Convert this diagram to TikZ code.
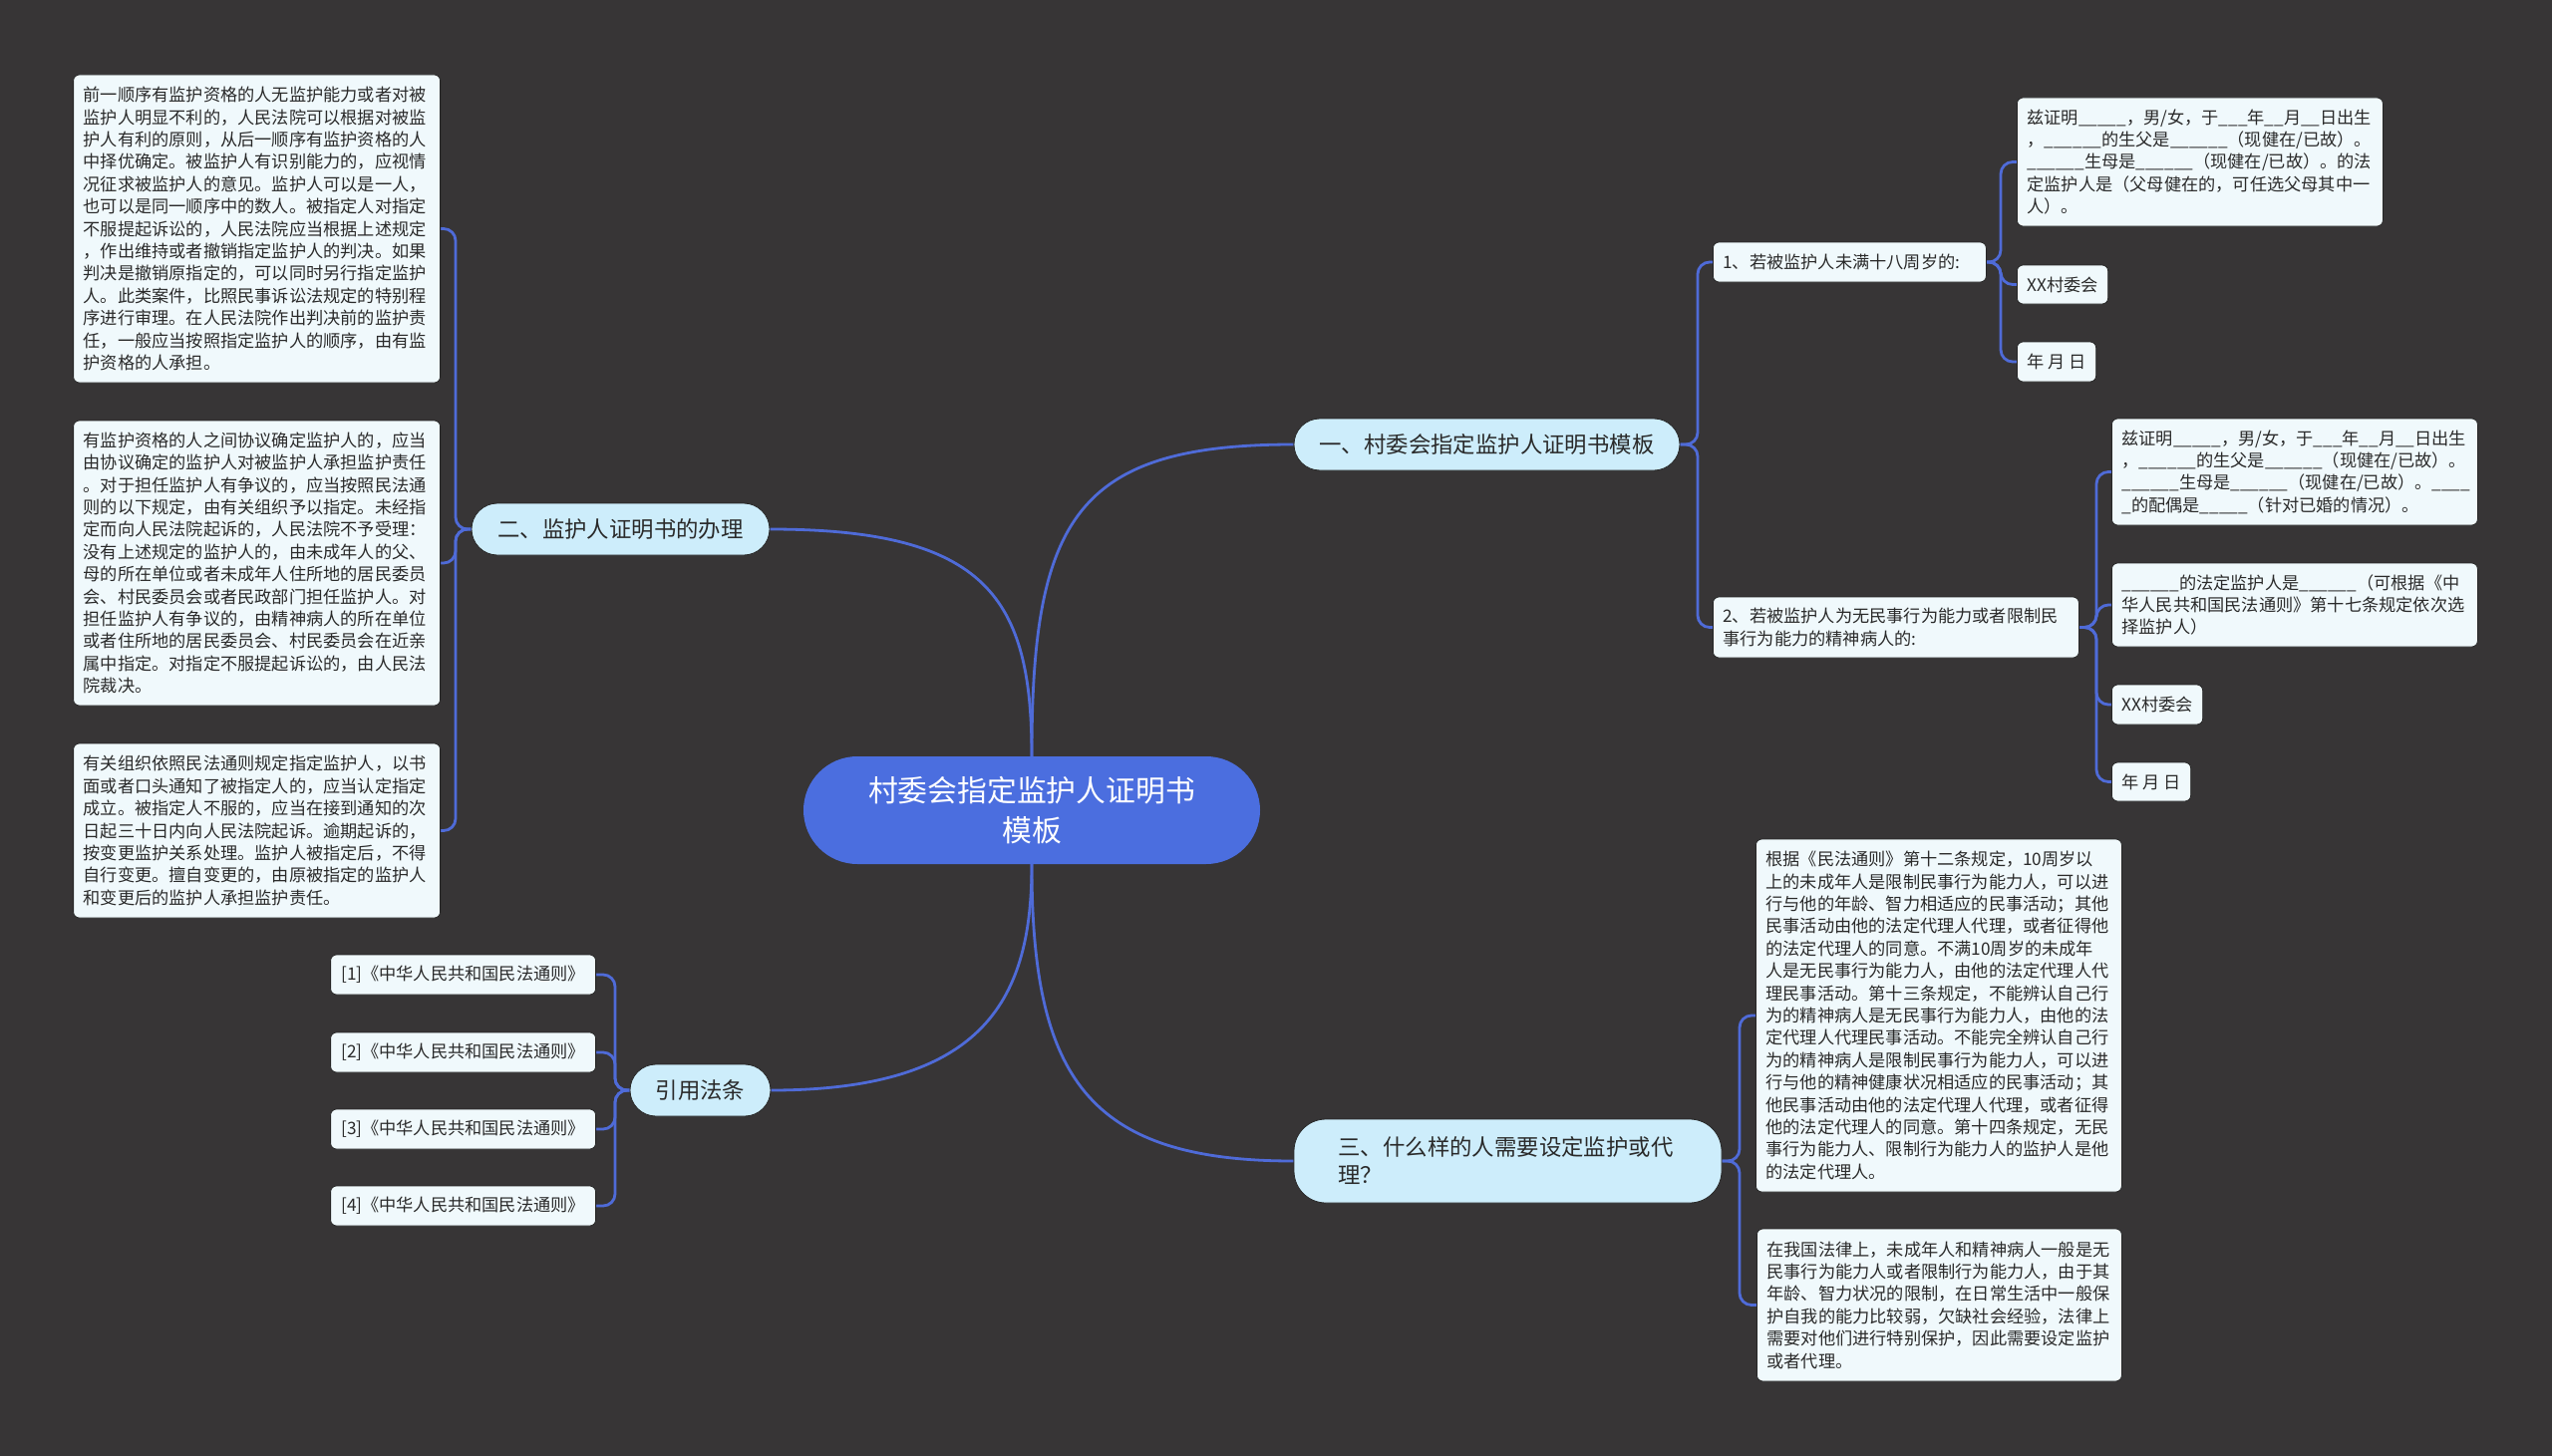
\documentclass[tikz,border=0pt]{standalone}
\usepackage{fontspec}
\setmainfont{Noto Sans CJK SC}
\usetikzlibrary{backgrounds}
\definecolor{bgc}{HTML}{373536}
\definecolor{linec}{HTML}{4F6BD8}
\definecolor{centerf}{HTML}{4B6EDF}
\definecolor{pillf}{HTML}{CDEDFB}
\definecolor{leaff}{HTML}{F0F9FC}
\definecolor{edgec}{HTML}{262626}
\definecolor{txt}{HTML}{2A2A2A}
\begin{document}
\begin{tikzpicture}[x=1pt,y=-1pt,
  conn/.style={draw=linec, line width=2.8pt, rounded corners=12pt},
  curv/.style={draw=linec, line width=2.8pt},
  leaf/.style={draw=edgec, line width=0.8pt, fill=leaff, rounded corners=6pt, inner xsep=10pt, inner ysep=0pt, align=left, font=\fontsize{17.2}{22.4}\selectfont, text=txt},
  pill/.style={draw=edgec, line width=0.8pt, fill=pillf, rounded corners=26pt, inner sep=0pt, minimum height=52pt, font=\fontsize{22.4}{28}\selectfont, text=txt},
]
\useasboundingbox (0,0) rectangle (2560,1461);

% centre
\node[fill=centerf, rounded corners=54pt, minimum width=458pt, minimum height=108pt, inner sep=0pt, align=center, text=white, font=\fontsize{29.8}{40}\selectfont] (C) at (1035,813) {村委会指定监护人证明书\\模板};

% level 1
\node[pill, minimum width=387pt] (P1) at (1491.5,446) {一、村委会指定监护人证明书模板};
\node[pill, minimum width=299pt] (P2) at (622.5,531) {二、监护人证明书的办理};
\node[pill, minimum width=141pt] (P3) at (702.5,1094) {引用法条};
\node[pill, minimum width=429pt, minimum height=84pt, rounded corners=32pt, text width=340pt, align=left] (P4) at (1512.5,1165) {三、什么样的人需要设定监护或代\\理？};

% level 2 right
\node[leaf, anchor=west, text width=254pt, minimum height=40pt] (N1) at (1718,263) {1、若被监护人未满十八周岁的:};
\node[leaf, anchor=west, text width=347pt, minimum height=61pt] (N2) at (1718,629.5) {2、若被监护人为无民事行为能力或者限制民\\事行为能力的精神病人的:};

% children of N1
\node[leaf, anchor=west, text width=347pt, minimum height=129pt] (A1) at (2023,162.5) {兹证明\_\_\_\_\_，男/女，于\_\_\_年\_\_月\_\_日出生\\，\_\_\_\_\_\_的生父是\_\_\_\_\_\_（现健在/已故）。\\\_\_\_\_\_\_生母是\_\_\_\_\_\_（现健在/已故）。的法\\定监护人是（父母健在的，可任选父母其中一\\人）。};
\node[leaf, anchor=west, minimum height=39pt] (X1) at (2023,285.5) {XX村委会};
\node[leaf, anchor=west, minimum height=40pt] (D1) at (2023,363) {年 月 日};

% children of N2
\node[leaf, anchor=west, text width=347pt, minimum height=107pt] (B1) at (2118,473.5) {兹证明\_\_\_\_\_，男/女，于\_\_\_年\_\_月\_\_日出生\\，\_\_\_\_\_\_的生父是\_\_\_\_\_\_（现健在/已故）。\\\_\_\_\_\_\_生母是\_\_\_\_\_\_（现健在/已故）。\_\_\_\_\\\_的配偶是\_\_\_\_\_（针对已婚的情况）。};
\node[leaf, anchor=west, text width=347pt, minimum height=84pt] (B2) at (2118,607) {\_\_\_\_\_\_的法定监护人是\_\_\_\_\_\_（可根据《中\\华人民共和国民法通则》第十七条规定依次选\\择监护人）};
\node[leaf, anchor=west, minimum height=40pt] (X2) at (2118,707) {XX村委会};
\node[leaf, anchor=west, minimum height=39pt] (D2) at (2118,784.5) {年 月 日};

% children of P2 (left)
\node[leaf, anchor=east, text width=348pt, minimum height=309pt] (L1) at (442,229.5) {前一顺序有监护资格的人无监护能力或者对被\\监护人明显不利的，人民法院可以根据对被监\\护人有利的原则，从后一顺序有监护资格的人\\中择优确定。被监护人有识别能力的，应视情\\况征求被监护人的意见。监护人可以是一人，\\也可以是同一顺序中的数人。被指定人对指定\\不服提起诉讼的，人民法院应当根据上述规定\\，作出维持或者撤销指定监护人的判决。如果\\判决是撤销原指定的，可以同时另行指定监护\\人。此类案件，比照民事诉讼法规定的特别程\\序进行审理。在人民法院作出判决前的监护责\\任，一般应当按照指定监护人的顺序，由有监\\护资格的人承担。};
\node[leaf, anchor=east, text width=348pt, minimum height=286pt] (L2) at (442,565) {有监护资格的人之间协议确定监护人的，应当\\由协议确定的监护人对被监护人承担监护责任\\。对于担任监护人有争议的，应当按照民法通\\则的以下规定，由有关组织予以指定。未经指\\定而向人民法院起诉的，人民法院不予受理：\\没有上述规定的监护人的，由未成年人的父、\\母的所在单位或者未成年人住所地的居民委员\\会、村民委员会或者民政部门担任监护人。对\\担任监护人有争议的，由精神病人的所在单位\\或者住所地的居民委员会、村民委员会在近亲\\属中指定。对指定不服提起诉讼的，由人民法\\院裁决。};
\node[leaf, anchor=east, text width=348pt, minimum height=175pt] (L3) at (442,833.5) {有关组织依照民法通则规定指定监护人，以书\\面或者口头通知了被指定人的，应当认定指定\\成立。被指定人不服的，应当在接到通知的次\\日起三十日内向人民法院起诉。逾期起诉的，\\按变更监护关系处理。监护人被指定后，不得\\自行变更。擅自变更的，由原被指定的监护人\\和变更后的监护人承担监护责任。};

% citations
\node[leaf, anchor=east, minimum width=266pt, minimum height=40pt] (Q1) at (598,978) {[1]《中华人民共和国民法通则》};
\node[leaf, anchor=east, minimum width=266pt, minimum height=40pt] (Q2) at (598,1056) {[2]《中华人民共和国民法通则》};
\node[leaf, anchor=east, minimum width=266pt, minimum height=40pt] (Q3) at (598,1133) {[3]《中华人民共和国民法通则》};
\node[leaf, anchor=east, minimum width=266pt, minimum height=40pt] (Q4) at (598,1210) {[4]《中华人民共和国民法通则》};

% children of P4
\node[leaf, anchor=west, text width=347pt, minimum height=354pt] (R1) at (1761,1019) {根据《民法通则》第十二条规定，10周岁以\\上的未成年人是限制民事行为能力人，可以进\\行与他的年龄、智力相适应的民事活动；其他\\民事活动由他的法定代理人代理，或者征得他\\的法定代理人的同意。不满10周岁的未成年\\人是无民事行为能力人，由他的法定代理人代\\理民事活动。第十三条规定，不能辨认自己行\\为的精神病人是无民事行为能力人，由他的法\\定代理人代理民事活动。不能完全辨认自己行\\为的精神病人是限制民事行为能力人，可以进\\行与他的精神健康状况相适应的民事活动；其\\他民事活动由他的法定代理人代理，或者征得\\他的法定代理人的同意。第十四条规定，无民\\事行为能力人、限制行为能力人的监护人是他\\的法定代理人。};
\node[leaf, anchor=west, text width=346pt, minimum height=153pt] (R2) at (1762,1309.5) {在我国法律上，未成年人和精神病人一般是无\\民事行为能力人或者限制行为能力人，由于其\\年龄、智力状况的限制，在日常生活中一般保\\护自我的能力比较弱，欠缺社会经验，法律上\\需要对他们进行特别保护，因此需要设定监护\\或者代理。};

\begin{scope}[on background layer]
\fill[bgc] (0,0) rectangle (2560,1461);
% connectors centre -> level 1
\draw[curv] (C.north) .. controls (1035,520) and (1080,446) .. (P1.west);
\draw[curv] (C.north) .. controls (1035,600) and (990,531) .. (P2.east);
\draw[curv] (C.south) .. controls (1035,1080) and (1090,1165) .. (P4.west);
\draw[curv] (C.south) .. controls (1035,1000) and (990,1094) .. (P3.east);

% P1 -> N1, N2
\coordinate (t1) at (1703,446);
\draw[conn] (P1.east) -- (t1) |- (N1.west);
\draw[conn] (P1.east) -- (t1) |- (N2.west);
% N1 -> A1, X1, D1
\coordinate (t2) at (2007,263);
\draw[conn] (N1.east) -- (t2) |- (A1.west);
\draw[conn] (N1.east) -- (t2) |- (X1.west);
\draw[conn] (N1.east) -- (t2) |- (D1.west);
% N2 -> B1, B2, X2, D2
\coordinate (t3) at (2103,629.5);
\draw[conn] (N2.east) -- (t3) |- (B1.west);
\draw[conn] (N2.east) -- (t3) |- (B2.west);
\draw[conn] (N2.east) -- (t3) |- (X2.west);
\draw[conn] (N2.east) -- (t3) |- (D2.west);
% P2 -> L1, L2, L3
\coordinate (t4) at (457,531);
\draw[conn] (P2.west) -- (t4) |- (L1.east);
\draw[conn] (P2.west) -- (t4) |- (L2.east);
\draw[conn] (P2.west) -- (t4) |- (L3.east);
% P3 -> Q1..Q4
\coordinate (t5) at (617,1094);
\draw[conn] (P3.west) -- (t5) |- (Q1.east);
\draw[conn] (P3.west) -- (t5) |- (Q2.east);
\draw[conn] (P3.west) -- (t5) |- (Q3.east);
\draw[conn] (P3.west) -- (t5) |- (Q4.east);
% P4 -> R1, R2
\coordinate (t6) at (1745,1165);
\draw[conn] (P4.east) -- (t6) |- (R1.west);
\draw[conn] (P4.east) -- (t6) |- (R2.west);
\end{scope}
\end{tikzpicture}
\end{document}
